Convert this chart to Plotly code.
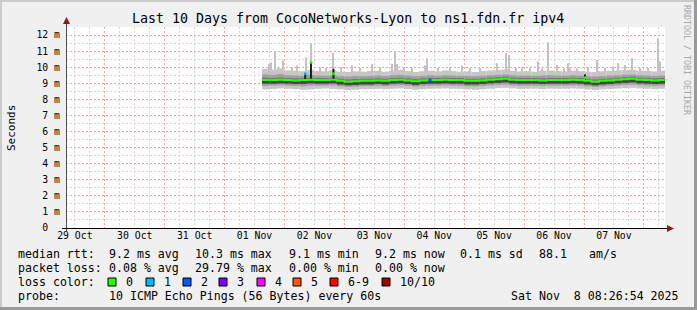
import plotly.graph_objects as go
import pandas as pd
import numpy as np

# ---------------- data ----------------
bin_start = "2025-11-01 15:00"   # 3-hour smoke bins
bin_hours = 3
median = [9.20, 9.20, 9.22, 9.20, 9.18, 9.20, 9.22, 9.20, 9.20,
          9.22, 9.15, 9.10, 9.12, 9.15, 9.15, 9.18, 9.15, 9.20,
          9.22, 9.18, 9.12, 9.18, 9.20, 9.20, 9.22, 9.20, 9.20,
          9.15, 9.15, 9.18, 9.22, 9.25, 9.28, 9.22, 9.20, 9.20,
          9.20, 9.18, 9.20, 9.20, 9.20, 9.22, 9.20, 9.15, 9.10,
          9.15, 9.18, 9.22, 9.25, 9.28, 9.22, 9.20, 9.18, 9.20]
smoke_max = [9.90, 9.85, 9.92, 9.80, 9.78, 9.75, 9.82, 9.76, 9.74,
             9.80, 9.72, 9.70, 9.74, 9.72, 9.76, 9.78, 9.72, 9.80,
             9.84, 9.76, 9.70, 9.75, 9.78, 9.74, 9.80, 9.76, 9.72,
             9.74, 9.70, 9.76, 9.80, 9.82, 9.85, 9.78, 9.74, 9.76,
             9.72, 9.78, 9.80, 9.76, 9.74, 9.78, 9.76, 9.72, 9.70,
             9.74, 9.78, 9.80, 9.82, 9.84, 9.78, 9.76, 9.74, 9.78]
smoke_p80 = [9.55, 9.52, 9.58, 9.50, 9.48, 9.46, 9.52, 9.48, 9.46,
             9.50, 9.44, 9.42, 9.45, 9.44, 9.46, 9.48, 9.45, 9.50,
             9.52, 9.48, 9.44, 9.46, 9.50, 9.47, 9.50, 9.48, 9.46,
             9.45, 9.44, 9.47, 9.50, 9.53, 9.55, 9.50, 9.47, 9.48,
             9.46, 9.48, 9.50, 9.48, 9.47, 9.50, 9.48, 9.44, 9.42,
             9.45, 9.48, 9.50, 9.53, 9.55, 9.50, 9.48, 9.46, 9.48]
smoke_p60 = [9.34, 9.33, 9.36, 9.33, 9.31, 9.32, 9.35, 9.33, 9.32,
             9.35, 9.28, 9.24, 9.26, 9.28, 9.29, 9.31, 9.28, 9.33,
             9.35, 9.31, 9.26, 9.31, 9.33, 9.33, 9.35, 9.33, 9.33,
             9.28, 9.28, 9.31, 9.35, 9.38, 9.41, 9.35, 9.33, 9.33,
             9.33, 9.31, 9.33, 9.33, 9.33, 9.35, 9.33, 9.28, 9.24,
             9.28, 9.31, 9.35, 9.38, 9.41, 9.35, 9.33, 9.31, 9.33]
smoke_p40 = [8.98, 8.98, 9.00, 8.98, 8.96, 8.97, 9.00, 8.98, 8.98,
             9.00, 8.93, 8.88, 8.90, 8.93, 8.93, 8.96, 8.93, 8.98,
             9.00, 8.96, 8.90, 8.96, 8.98, 8.98, 9.00, 8.98, 8.98,
             8.93, 8.93, 8.96, 9.00, 9.03, 9.06, 9.00, 8.98, 8.98,
             8.98, 8.96, 8.98, 8.98, 8.98, 9.00, 8.98, 8.93, 8.88,
             8.93, 8.96, 9.00, 9.03, 9.06, 9.00, 8.98, 8.96, 8.98]
smoke_p20 = [8.84, 8.86, 8.88, 8.85, 8.83, 8.82, 8.86, 8.85, 8.86,
             8.87, 8.81, 8.77, 8.79, 8.82, 8.82, 8.84, 8.82, 8.86,
             8.88, 8.84, 8.79, 8.84, 8.86, 8.86, 8.88, 8.86, 8.85,
             8.81, 8.80, 8.84, 8.87, 8.90, 8.92, 8.87, 8.85, 8.86,
             8.86, 8.84, 8.86, 8.85, 8.86, 8.88, 8.86, 8.81, 8.77,
             8.81, 8.84, 8.87, 8.90, 8.92, 8.88, 8.86, 8.84, 8.86]
smoke_min = [8.62, 8.65, 8.68, 8.66, 8.64, 8.60, 8.62, 8.66, 8.68,
             8.65, 8.62, 8.58, 8.60, 8.63, 8.64, 8.65, 8.63, 8.66,
             8.68, 8.64, 8.60, 8.63, 8.66, 8.67, 8.68, 8.66, 8.65,
             8.62, 8.60, 8.63, 8.66, 8.70, 8.72, 8.68, 8.65, 8.66,
             8.66, 8.64, 8.66, 8.65, 8.66, 8.68, 8.66, 8.62, 8.58,
             8.62, 8.64, 8.67, 8.70, 8.72, 8.68, 8.66, 8.64, 8.66]

# single-ping spikes (hours after 2025-11-01 00:00, value in ms)
spike_hours = [17.8, 18.6, 20.2, 21.4, 23.4, 27.0, 29.0, 32.6, 34.8, 38.2,
               40.6, 43.4, 46.6, 51.0, 54.3, 59.1, 62.3, 67.1, 68.3, 69.1,
               71.9, 75.1, 80.3, 81.1, 85.5, 90.3, 95.1, 98.3, 102.3, 109.1,
               112.8, 113.8, 116.8, 119.2, 122.4, 125.6, 127.2, 129.4, 133.2, 136.0,
               137.6, 138.4, 141.2, 145.6, 149.2, 152.4, 155.6, 157.6, 160.4, 163.1,
               166.3, 169.5, 173.5, 174.3]
spike_ms = [10.2, 10.3, 11.0, 10.0, 10.4, 10.0, 10.1, 10.6, 11.5, 10.0,
            9.95, 10.9, 10.0, 10.1, 9.95, 10.2, 10.0, 10.2, 11.0, 10.2,
            10.0, 9.95, 10.1, 10.55, 9.95, 9.95, 10.1, 9.95, 9.95, 10.25,
            10.86, 10.76, 9.95, 10.0, 9.95, 10.35, 9.93, 11.55, 10.14, 9.95,
            10.24, 9.93, 9.93, 10.0, 10.45, 9.95, 10.05, 10.24, 10.14, 10.55,
            9.95, 9.95, 11.8, 10.35]

# dense (black) smoke events and the median at those moments
event_hours = [32.3, 34.6, 43.6, 144.4]
event_top = [9.6, 10.3, 9.9, 9.55]
event_median = [9.6, 10.3, 9.6, 9.35]
event_loss = ["1", "0", "0", "0"]
loss_hours = [82.3]
loss_median = [9.2]
loss_count = ["2"]

end_time = "2025-11-08 08:26:54"
x_start = "2025-10-29 08:26:54"
y_ticks = list(range(0, 13))
y_ticktext = ["0\u00a0\u00a0"] + [f"{v} m" for v in range(1, 13)]

loss_labels = ["0", "1", "2", "3", "4", "5", "6-9", "10/10"]
loss_colors = ["#26ff00", "#00b8ff", "#0059ff", "#7e00ff", "#ff00ff", "#ff5500", "#ff0000", "#a10000"]
loss_map = dict(zip(loss_labels, loss_colors))

title = "Last 10 Days from CocoNetworks-Lyon to ns1.fdn.fr ipv4"
legend_rows = [
    [(16, "median rtt:"), (107, "9.2 ms avg"), (193, "10.3 ms max"), (287, "9.1 ms min"),
     (373, "9.2 ms now"), (458, "0.1 ms sd"), (537, "88.1"), (587, "am/s")],
    [(16, "packet loss:"), (107, "0.08 % avg"), (193, "29.79 % max"), (287, "0.00 % min"),
     (373, "0.00 % now")],
    [(16, "loss color:")],
    [(16, "probe:"), (107, "10 ICMP Echo Pings (56 Bytes) every 60s")],
]
loss_box_x = [108, 146, 183, 219, 257, 293, 330, 382]
stamp = "Sat Nov  8 08:26:54 2025"

# ---------------- layout geometry ----------------
Wd, Ht = 697, 310
L, R, T, B = 66, 665, 27, 228
W, H = R - L, B - T
def px(x): return (x - L) / W
def py(y): return (B - y) / H

HOUR = 3600000
bins = pd.date_range(bin_start, periods=len(median), freq=f"{bin_hours}h")
centers = bins + pd.Timedelta(hours=bin_hours / 2)
day0 = pd.Timestamp("2025-11-01 00:00")
spike_t = [day0 + pd.Timedelta(hours=h) for h in spike_hours]
event_t = [day0 + pd.Timedelta(hours=h) for h in event_hours]
loss_t = [day0 + pd.Timedelta(hours=h) for h in loss_hours]
px_ms = 10 * 24 * HOUR / W  # ms per pixel

fig = go.Figure()

# spikes (drawn first, covered by smoke body)
fig.add_trace(go.Bar(x=spike_t, y=np.array(spike_ms) - 9.0, base=9.0, width=px_ms * 1.0,
                     marker=dict(color="#c2c2c2", line=dict(width=0)), hoverinfo="skip"))

def band(lo, hi, color):
    lo = np.array(lo); hi = np.array(hi)
    fig.add_trace(go.Bar(x=centers, y=hi - lo, base=lo, width=bin_hours * HOUR,
                         marker=dict(color=color, line=dict(width=0)), hoverinfo="skip"))

band(smoke_min, smoke_max, "#c6c6c6")
band(smoke_p20, smoke_p80, "#a0a0a0")
band(smoke_p40, smoke_p60, "#777777")
band(smoke_p40, median, "#444444")

# median line (step)
mx = list(bins) + [pd.Timestamp(end_time)]
my = list(median) + [median[-1]]
fig.add_trace(go.Scatter(x=mx, y=my, mode="lines", line=dict(color="#26ff00", width=2, shape="hv"),
                         hoverinfo="skip"))

# dense events
fig.add_trace(go.Bar(x=event_t, y=np.array(event_top) - 9.2, base=9.2, width=px_ms * 2,
                     marker=dict(color="#1e1e1e", line=dict(width=0)), hoverinfo="skip"))
fig.add_trace(go.Scatter(x=event_t, y=event_median, mode="markers",
                         marker=dict(symbol="square", size=2.5, color=[loss_map[c] for c in event_loss],
                                     line=dict(width=0)), hoverinfo="skip"))
fig.add_trace(go.Scatter(x=loss_t, y=loss_median, mode="markers",
                         marker=dict(symbol="square", size=3, color=[loss_map[c] for c in loss_count],
                                     line=dict(width=0)), hoverinfo="skip"))

mono = "DejaVu Sans Mono"
fig.update_layout(
    width=Wd, height=Ht,
    margin=dict(l=L, r=Wd - R, t=T, b=Ht - B, pad=0),
    paper_bgcolor="#f0f0f0", plot_bgcolor="#ffffff",
    showlegend=False, barmode="overlay",
    font=dict(family=mono, color="#000000", size=10),
)
fig.update_xaxes(
    type="date", range=[x_start, end_time], automargin=False,
    tick0="2025-10-30 00:00", dtick=24 * HOUR, tickformat="%d %b", ticklabelmode="period",
    showgrid=True, gridcolor="#f4a3a3", griddash="2px,2px", gridwidth=1,
    ticks="", tickfont=dict(family=mono, size=9.8, color="#000000"),
    minor=dict(tick0="2025-10-30 00:00", dtick=6 * HOUR, showgrid=True, gridcolor="#d4d4d4",
               griddash="2px,2px", gridwidth=1),
    showline=False, zeroline=False, fixedrange=True,
)
fig.update_yaxes(
    range=[0, H / 16.08], automargin=False,
    tickvals=y_ticks, ticktext=y_ticktext,
    showgrid=True, gridcolor="#f4a3a3", griddash="2px,2px", gridwidth=1,
    ticks="", ticklabelstandoff=5, tickfont=dict(family=mono, size=9.8, color="#000000"),
    minor=dict(dtick=0.5, showgrid=True, gridcolor="#d4d4d4", griddash="2px,2px", gridwidth=1),
    showline=False, zeroline=False, fixedrange=True,
)

shapes = []
# frame (3D shade)
shapes.append(dict(type="rect", xref="paper", yref="paper", x0=px(0), x1=px(Wd), y0=py(0), y1=py(2),
                   fillcolor="#cbcbcb", line=dict(width=0), layer="above"))
shapes.append(dict(type="rect", xref="paper", yref="paper", x0=px(0), x1=px(2), y0=py(0), y1=py(Ht),
                   fillcolor="#cbcbcb", line=dict(width=0), layer="above"))
shapes.append(dict(type="rect", xref="paper", yref="paper", x0=px(0), x1=px(Wd), y0=py(Ht - 3), y1=py(Ht),
                   fillcolor="#999999", line=dict(width=0), layer="above"))
shapes.append(dict(type="rect", xref="paper", yref="paper", x0=px(Wd - 3), x1=px(Wd), y0=py(0), y1=py(Ht),
                   fillcolor="#999999", line=dict(width=0), layer="above"))
# axes with arrows
shapes.append(dict(type="line", xref="paper", yref="paper", x0=px(L + 0.5), x1=px(L + 0.5), y0=py(B + 3), y1=py(23),
                   line=dict(color="#505050", width=1), layer="above"))
shapes.append(dict(type="line", xref="paper", yref="paper", x0=px(62), x1=px(668), y0=py(B + 0.5), y1=py(B + 0.5),
                   line=dict(color="#000000", width=1), layer="above"))
shapes.append(dict(type="path", xref="paper", yref="paper",
                   path=f"M {px(L+0.5)},{py(17)} L {px(L-3)},{py(24)} L {px(L+4)},{py(24)} Z",
                   fillcolor="#8b1a1a", line=dict(width=0), layer="above"))
shapes.append(dict(type="path", xref="paper", yref="paper",
                   path=f"M {px(674)},{py(B+0.5)} L {px(667)},{py(B-3)} L {px(667)},{py(B+4)} Z",
                   fillcolor="#8b1a1a", line=dict(width=0), layer="above"))
# loss colour boxes
for bx, col in zip(loss_box_x, loss_colors):
    shapes.append(dict(type="rect", xref="paper", yref="paper", x0=px(bx), x1=px(bx + 8),
                       y0=py(286), y1=py(278), fillcolor=col, line=dict(color="#000000", width=1), layer="above"))
fig.update_layout(shapes=shapes)

ann = []
ann.append(dict(text=title, x=px(348), y=py(19), xref="paper", yref="paper", showarrow=False,
                xanchor="center", yanchor="middle", font=dict(family=mono, size=13.3, color="#000000")))
ann.append(dict(text="Seconds", x=px(11), y=py(128), xref="paper", yref="paper", showarrow=False,
                textangle=-90, xanchor="center", yanchor="middle", font=dict(family=mono, size=11, color="#000000")))
ann.append(dict(text="RRDTOOL / TOBI OETIKER", x=px(687), y=py(60), xref="paper", yref="paper", showarrow=False,
                textangle=90, xanchor="center", yanchor="middle", font=dict(family=mono, size=8.3, color="#a8a8a8")))
row_y = [254, 268, 282, 296]
for ry, row in zip(row_y, legend_rows):
    for rx, txt in row:
        ann.append(dict(text=txt, x=px(rx), y=py(ry), xref="paper", yref="paper", showarrow=False,
                        xanchor="left", yanchor="middle", font=dict(family=mono, size=11.6, color="#000000")))
for bx, lab in zip(loss_box_x, loss_labels):
    ann.append(dict(text=lab, x=px(bx + 16), y=py(282), xref="paper", yref="paper", showarrow=False,
                    xanchor="left", yanchor="middle", font=dict(family=mono, size=11.6, color="#000000")))
ann.append(dict(text=stamp, x=px(681), y=py(296), xref="paper", yref="paper", showarrow=False,
                xanchor="right", yanchor="middle", font=dict(family=mono, size=11.6, color="#000000")))
fig.update_layout(annotations=ann)

fig.write_html("out.html")
